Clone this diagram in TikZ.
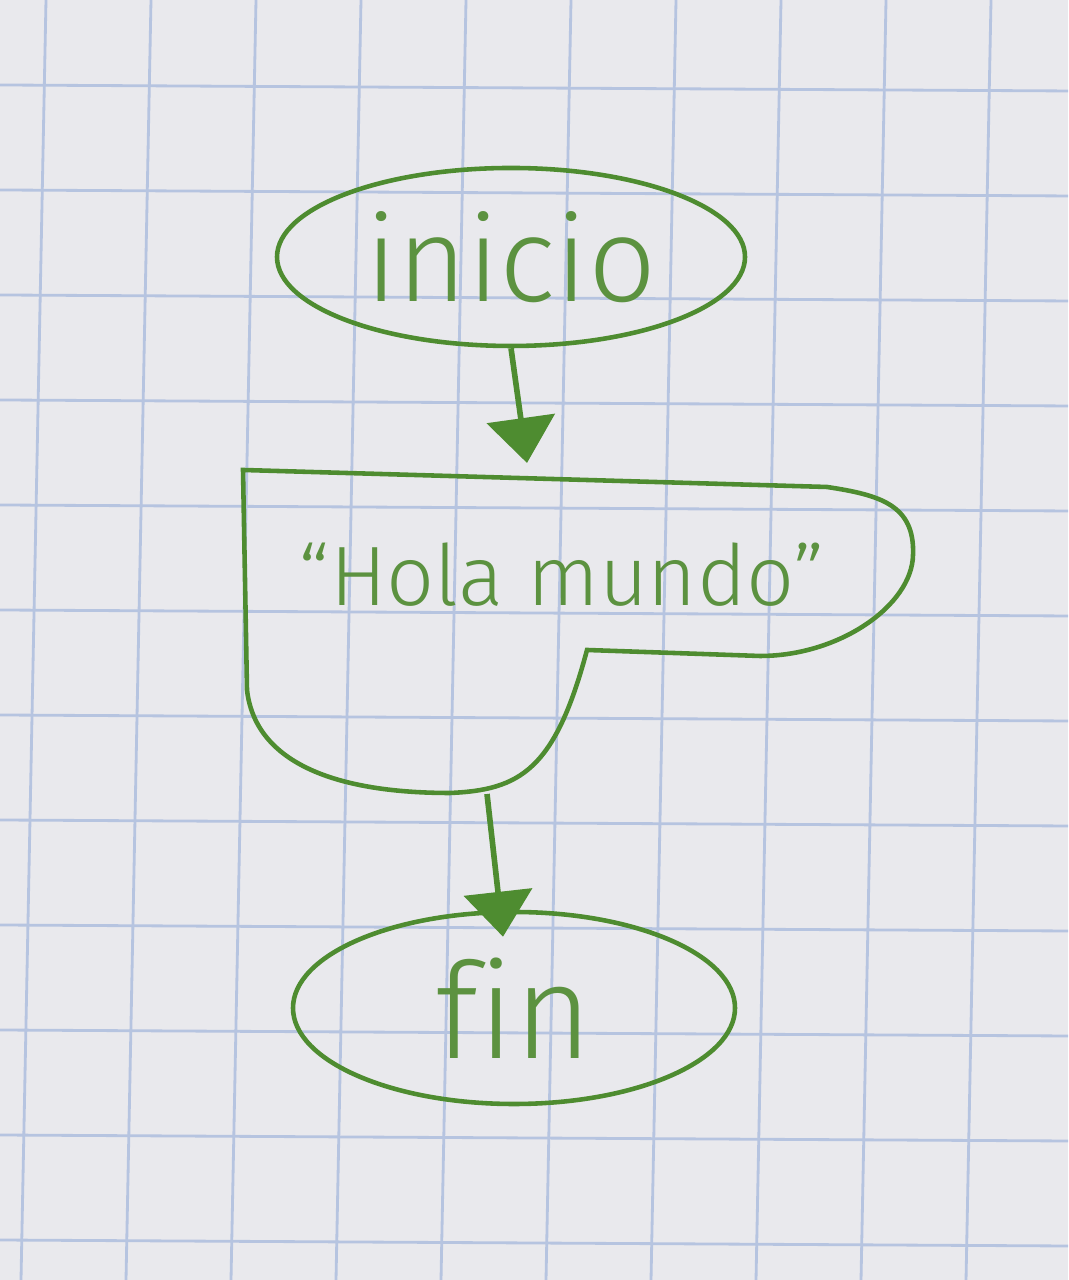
\documentclass[tikz,border=0pt]{standalone}
\usepackage{fontspec}
\setmainfont{Fira Sans}[UprightFont=* Light, Ligatures=NoCommon]
\usetikzlibrary{shapes.geometric,arrows.meta}
\definecolor{paper}{RGB}{233,233,237}
\definecolor{gridc}{RGB}{182,196,224}
\definecolor{ink}{RGB}{78,140,48}
\definecolor{inktext}{RGB}{92,146,64}
\tikzset{
  shape line/.style={draw=ink, line width=1.3pt},
  term/.style={ellipse, shape line, text=inktext, inner sep=0pt},
  arr/.style={draw=ink, line width=1.6pt, -{Triangle[length=0.45cm,width=0.68cm]}},
  gridline/.style={draw=gridc, line width=0.8pt}
}
\begin{document}
\begin{tikzpicture}
\useasboundingbox (0,0) rectangle (10.68,12.80);
\fill[paper] (0,0) rectangle (10.68,12.80);
\begin{scope}
\clip (0,0) rectangle (10.68,12.80);
\foreach \k in {-5,...,6} {
  \draw[gridline] ({4.66+1.05*\k},12.80) -- ({4.41+1.05*\k},0);
}
\foreach \j in {-4,...,8} {
  \draw[gridline] (0,{8.77-1.05*\j+0.03}) -- (10.68,{8.77-1.05*\j-0.03});
}
\end{scope}
% start terminal
\node[term, minimum width=4.68cm, minimum height=1.78cm, font=\fontsize{34}{38}\selectfont] (inicio) at (5.11,10.23) {inicio};
% output (display) shape
\draw[shape line] (2.43,8.10) -- (8.27,7.93)
  .. controls (8.80,7.85) and (9.15,7.75) .. (9.13,7.25)
  .. controls (9.12,6.75) and (8.40,6.24) .. (7.60,6.24)
  -- (5.87,6.30)
  .. controls (5.55,5.10) and (5.20,4.90) .. (4.50,4.87)
  .. controls (3.30,4.87) and (2.55,5.20) .. (2.47,5.90)
  -- cycle;
\node[text=inktext, font=\fontsize{24}{28}\selectfont, inner sep=0pt] (out) at (5.62,7.05) {“Hola mundo”};
\coordinate (outtop) at (5.27,8.17);
\coordinate (outbot) at (4.87,4.86);
% end terminal
\node[term, minimum width=4.42cm, minimum height=1.92cm, font=\fontsize{38}{42}\selectfont] (fin) at (5.14,2.72) {fin};
% connectors
\draw[arr] (inicio.south) -- (outtop);
\draw[arr] (outbot) -- ([xshift=-0.11cm,yshift=-0.27cm]fin.north);
\end{tikzpicture}
\end{document}
